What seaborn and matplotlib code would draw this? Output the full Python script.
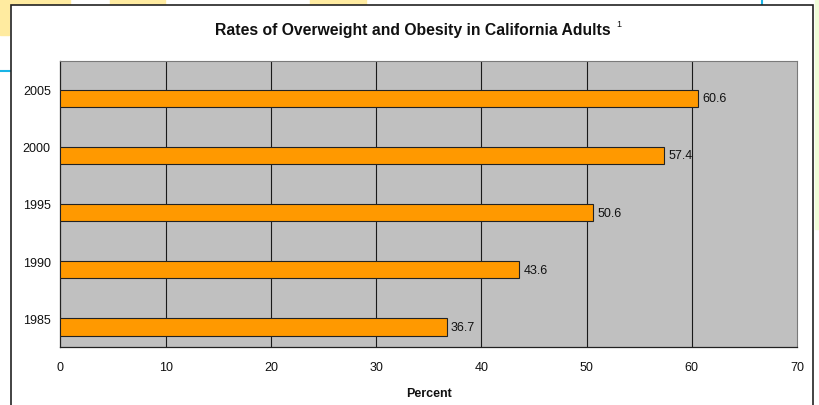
import matplotlib
matplotlib.use("Agg")
import matplotlib.pyplot as plt
import matplotlib.patches as mpatches
import seaborn as sns
import pandas as pd
import numpy as np

years = ["2005", "2000", "1995", "1990", "1985"]
rates = [60.6, 57.4, 50.6, 43.6, 36.7]
x_ticks = [0, 10, 20, 30, 40, 50, 60, 70]

sns.set_theme(style="white")
plt.rcParams["font.family"] = ["Liberation Sans", "DejaVu Sans"]

W, H = 820, 406
fig = plt.figure(figsize=(W / 100, H / 100), dpi=100)
fig.patch.set_facecolor("white")

def fx(px):
    return px / W

def fy(py):
    return 1 - py / H

# slide background decorations around the chart frame
yellow = "#FFEBA0"
for x0, x1 in [(0, 70), (110, 165), (310, 366)]:
    fig.patches.append(mpatches.Rectangle((fx(x0), fy(8)), fx(x1 - x0), 8 / H,
                                          transform=fig.transFigure, color=yellow, zorder=0))
fig.patches.append(mpatches.Rectangle((0, fy(36)), fx(9), 36 / H,
                                      transform=fig.transFigure, color=yellow, zorder=0))
fig.patches.append(mpatches.Rectangle((fx(815), fy(230)), fx(5), 230 / H,
                                      transform=fig.transFigure, color="#F0FDD8", zorder=0))
fig.lines.append(plt.Line2D([fx(762), fx(762)], [fy(0), fy(6)], transform=fig.transFigure,
                            color="#19B4E6", lw=1.5, zorder=1))
fig.lines.append(plt.Line2D([0, fx(11)], [fy(72), fy(72)], transform=fig.transFigure,
                            color="#19B4E6", lw=1.5, zorder=1))

# chart frame
fig.patches.append(mpatches.Rectangle((fx(11), fy(420)), fx(813 - 11), (420 - 6) / H,
                                      transform=fig.transFigure, facecolor="white",
                                      edgecolor="#222222", lw=1.2, zorder=2))

ax = fig.add_axes([fx(60.5), fy(348), fx(797 - 60.5), (348 - 62) / H], zorder=3)

# two series per year, the first one empty, so the bars sit in the lower half of each band
df = pd.DataFrame({
    "Year": years * 2,
    "Percent": [np.nan] * len(years) + rates,
    "Series": ["empty"] * len(years) + ["rate"] * len(years),
})

sns.barplot(data=df, x="Percent", y="Year", hue="Series", order=years,
            hue_order=["empty", "rate"], palette={"empty": "#FF9900", "rate": "#FF9900"},
            orient="h", saturation=1, width=0.6, dodge=True, legend=False,
            edgecolor="#222222", linewidth=0.8, ax=ax, zorder=3)

ax.set_facecolor("#C0C0C0")
ax.set_xlim(0, 70)
ax.set_ylim(4.5, -0.5)
ax.set_xticks(x_ticks)
ax.set_xticklabels([str(t) for t in x_ticks], fontsize=9, color="#111111")
for t in x_ticks[1:-1]:
    ax.axvline(t, color="#1a1a1a", lw=0.8, zorder=1)

ax.set_yticks(range(len(years)))
ax.set_yticklabels(years, fontsize=9, color="#111111")
ax.tick_params(axis="y", length=0, pad=7)
ax.set_yticks([i - 0.5 for i in range(len(years) + 1)], minor=True)
ax.tick_params(axis="y", which="minor", length=4, width=0.8, color="#222222", direction="out")
ax.tick_params(axis="x", length=4, width=0.8, color="#222222", direction="in", pad=10)

for side in ["left", "bottom"]:
    ax.spines[side].set_color("#222222")
    ax.spines[side].set_linewidth(0.9)
for side in ["top", "right"]:
    ax.spines[side].set_color("#7a7a7a")
    ax.spines[side].set_linewidth(0.8)

# value labels at the end of each drawn bar
for p in ax.patches:
    w = p.get_width()
    if np.isfinite(w) and w > 0:
        ax.annotate(f"{w:.1f}", (w, p.get_y() + p.get_height() / 2), xytext=(3, 0),
                    textcoords="offset points", va="center", ha="left",
                    fontsize=9, color="#111111", zorder=5)

ax.set_ylabel("")
ax.set_xlabel("Percent", fontsize=9, fontweight="bold", labelpad=10, color="#111111")

fig.text(fx(412.5), fy(35), "Rates of Overweight and Obesity in California Adults",
         ha="center", va="baseline", fontsize=11.3, fontweight="bold", color="#111111", zorder=4)
fig.text(fx(616), fy(27), "1", ha="left", va="baseline", fontsize=6.5, color="#111111", zorder=4)

fig.savefig("out.png", dpi=100)
